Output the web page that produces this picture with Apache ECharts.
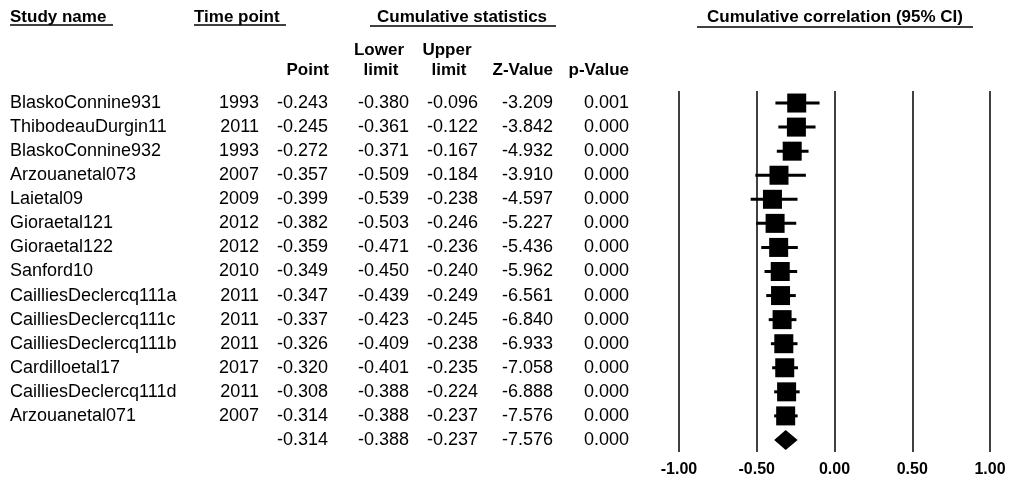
<!DOCTYPE html>
<html>
<head>
<meta charset="utf-8">
<script src="https://cdn.jsdelivr.net/npm/echarts@6/dist/echarts.min.js"></script>
<style>html,body{margin:0;padding:0;background:#fff}#c{width:1010px;height:485px}</style>
</head>
<body>
<div id="c"></div>
<script>
var studyNames = ['BlaskoConnine931','ThibodeauDurgin11','BlaskoConnine932','Arzouanetal073','Laietal09','Gioraetal121','Gioraetal122','Sanford10','CailliesDeclercq111a','CailliesDeclercq111c','CailliesDeclercq111b','Cardilloetal17','CailliesDeclercq111d','Arzouanetal071',''];
var timePoints = ['1993','2011','1993','2007','2009','2012','2012','2010','2011','2011','2011','2017','2011','2007',''];
var points = [-0.243,-0.245,-0.272,-0.357,-0.399,-0.382,-0.359,-0.349,-0.347,-0.337,-0.326,-0.320,-0.308,-0.314,-0.314];
var lowers = [-0.380,-0.361,-0.371,-0.509,-0.539,-0.503,-0.471,-0.450,-0.439,-0.423,-0.409,-0.401,-0.388,-0.388,-0.388];
var uppers = [-0.096,-0.122,-0.167,-0.184,-0.238,-0.246,-0.236,-0.240,-0.249,-0.245,-0.238,-0.235,-0.224,-0.237,-0.237];
var zValues = [-3.209,-3.842,-4.932,-3.910,-4.597,-5.227,-5.436,-5.962,-6.561,-6.840,-6.933,-7.058,-6.888,-7.576,-7.576];
var pValues = [0.001,0.000,0.000,0.000,0.000,0.000,0.000,0.000,0.000,0.000,0.000,0.000,0.000,0.000,0.000];
var xTicks = [-1, -0.5, 0, 0.5, 1];
var summaryIndex = 14;

var FONT = '"Liberation Sans", Arial, sans-serif';
var rowIdx = studyNames.map(function (_, i) { return i; });

var chart = echarts.init(document.getElementById('c'), null, {renderer: 'canvas'});

function colAxis(values, offset, align, fmt) {
  return {
    type: 'category', gridIndex: 0, data: rowIdx, inverse: true, position: 'left', offset: offset,
    axisLine: {show: false}, axisTick: {show: false}, splitLine: {show: false},
    axisLabel: {
      show: true, interval: 0, margin: 0, align: align, color: '#000',
      fontFamily: FONT, fontSize: 18,
      formatter: function (v, i) { return fmt(values[i]); }
    }
  };
}
var asIs = function (v) { return v; };
var f3 = function (v) { return v.toFixed(3); };

var GL = 679;
var yAxes = [
  colAxis(studyNames, GL - 10, 'left', asIs),
  colAxis(timePoints, GL - 259, 'right', asIs),
  colAxis(points, GL - 328, 'right', f3),
  colAxis(lowers, GL - 409, 'right', f3),
  colAxis(uppers, GL - 478, 'right', f3),
  colAxis(zValues, GL - 553, 'right', f3),
  colAxis(pValues, GL - 629, 'right', f3)
];

var ciData = [], sqData = [], dmData = [];
for (var i = 0; i < points.length; i++) {
  if (i === summaryIndex) {
    dmData.push([points[i], i, lowers[i], uppers[i]]);
  } else {
    ciData.push([lowers[i], i, uppers[i]]);
    sqData.push([points[i], i]);
  }
}

function hdr(text, x, y, align) {
  return {type: 'text', x: x, y: y, style: {text: text, fill: '#000', font: 'bold 17px ' + FONT, textAlign: align || 'left', textVerticalAlign: 'middle'}};
}
function uline(x1, x2, y) {
  return {type: 'line', shape: {x1: x1, y1: y, x2: x2, y2: y}, style: {stroke: '#000', lineWidth: 1.5}};
}

var option = {
  backgroundColor: '#fff',
  animation: false,
  grid: {left: GL, right: 20, top: 91, bottom: 33, containLabel: false},
  xAxis: {
    type: 'value', min: -1, max: 1, interval: 0.5,
    axisLine: {show: false}, axisTick: {show: false},
    splitLine: {show: true, showMinLine: true, showMaxLine: true, lineStyle: {color: '#000', width: 1.5}},
    axisLabel: {
      margin: 10, color: '#000', fontWeight: 'bold', fontFamily: FONT, fontSize: 16,
      formatter: function (v) { return xTicks.indexOf(v) >= 0 ? v.toFixed(2) : ''; }
    }
  },
  yAxis: yAxes,
  series: [
    {
      type: 'custom', yAxisIndex: 0, data: ciData, z: 2,
      renderItem: function (params, api) {
        var a = api.coord([api.value(0), api.value(1)]);
        var b = api.coord([api.value(2), api.value(1)]);
        return {type: 'line', shape: {x1: a[0], y1: a[1], x2: b[0], y2: b[1]}, style: {stroke: '#000', lineWidth: 3}};
      }
    },
    {
      type: 'scatter', yAxisIndex: 0, data: sqData, symbol: 'rect', symbolSize: [19, 19], z: 3,
      itemStyle: {color: '#000', opacity: 1}
    },
    {
      type: 'custom', yAxisIndex: 0, data: dmData, z: 3,
      renderItem: function (params, api) {
        var c = api.coord([api.value(0), api.value(1)]);
        var l = api.coord([api.value(2), api.value(1)]);
        var u = api.coord([api.value(3), api.value(1)]);
        var h = 10;
        return {type: 'polygon', shape: {points: [[l[0], c[1]], [c[0], c[1] - h], [u[0], c[1]], [c[0], c[1] + h]]}, style: {fill: '#000'}};
      }
    }
  ],
  graphic: [
    hdr('Study name', 10, 17), uline(10, 113, 25),
    hdr('Time point', 194, 17), uline(194, 286, 25),
    hdr('Cumulative statistics', 377, 17), uline(370, 556, 26),
    hdr('Cumulative correlation (95% CI)', 707, 17), uline(697, 973, 27),
    hdr('Point', 329, 70, 'right'),
    hdr('Lower', 379, 50, 'center'), hdr('limit', 381, 70, 'center'),
    hdr('Upper', 447, 50, 'center'), hdr('limit', 449, 70, 'center'),
    hdr('Z-Value', 553, 70, 'right'),
    hdr('p-Value', 629, 70, 'right')
  ]
};
chart.setOption(option);
</script>
</body>
</html>
